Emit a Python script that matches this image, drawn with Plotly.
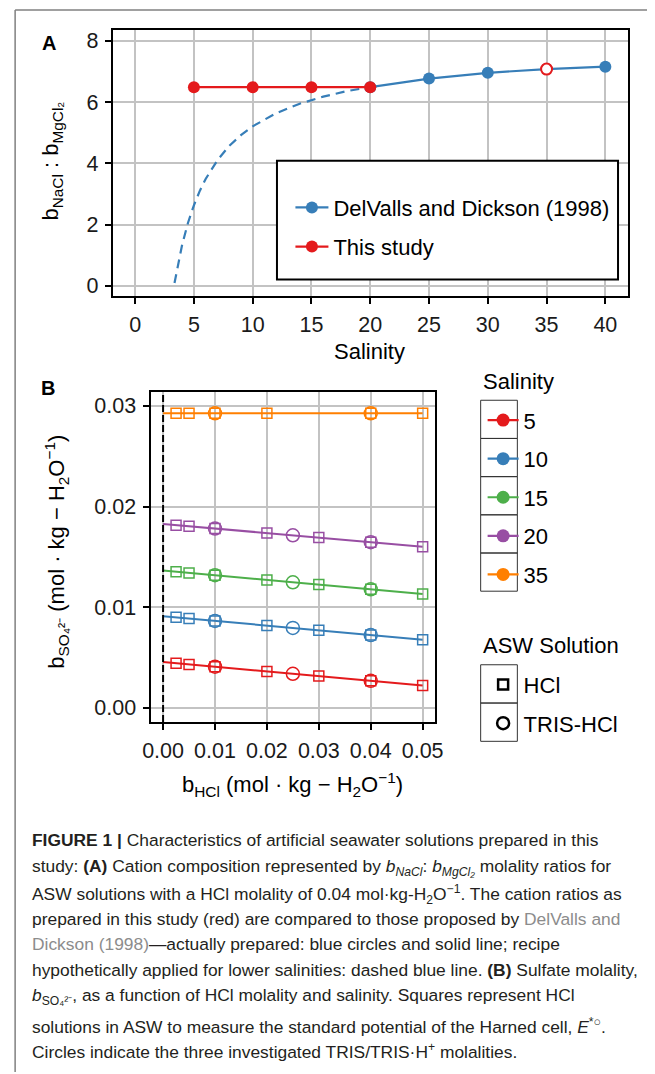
import plotly.graph_objects as go

W, H = 655, 1074


def px(x):
    return x / W


def py(y):
    return 1 - y / H


FONT = "Liberation Sans, Arial, Helvetica, sans-serif"
RED, BLUE, GREEN, PURPLE, ORANGE = "#E41A1C", "#377EB8", "#4DAF4A", "#984EA3", "#FF7F00"
GRID = "#C3C3C3"

# ---------------- Panel A data ----------------
salinity_ticks_a = [0, 5, 10, 15, 20, 25, 30, 35, 40]
ratio_ticks_a = [0, 2, 4, 6, 8]
salinity_study = [5, 10, 15, 20]
ratio_study = [6.49, 6.49, 6.49, 6.49]
salinity_study_35 = [35]
ratio_study_35 = [7.08]
salinity_dd = [20, 25, 30, 35, 40]
ratio_dd = [6.49, 6.77, 6.96, 7.08, 7.16]
salinity_hypo = [3.35, 3.6, 4.0, 4.5, 5.0, 5.5, 6.0, 7.0, 8.0, 9.0, 10.0, 12.0, 14.0, 16.0, 18.0, 20.0]
ratio_hypo = [0.09, 0.62, 1.34, 2.06, 2.63, 3.10, 3.49, 4.10, 4.57, 4.92, 5.21, 5.64, 5.95, 6.18, 6.36, 6.49]

# ---------------- Panel B data ----------------
hcl_ticks_b = [0.00, 0.01, 0.02, 0.03, 0.04, 0.05]
so4_ticks_b = [0.00, 0.01, 0.02, 0.03]
salinity_levels = ["5", "10", "15", "20", "35"]
salinity_colors = [RED, BLUE, GREEN, PURPLE, ORANGE]
hcl_line = [0.0, 0.05]
hcl_sq = [0.0025, 0.005, 0.01, 0.02, 0.03, 0.04, 0.05]
hcl_sq_35 = [0.0025, 0.005, 0.01, 0.02, 0.04, 0.05]
tris_hcl = [0.01, 0.025, 0.04]
tris_hcl_35 = [0.01, 0.04]

so4_line_5 = [0.00453, 0.00221]
so4_line_10 = [0.00910, 0.00675]
so4_line_15 = [0.01363, 0.01131]
so4_line_20 = [0.01826, 0.01601]
so4_line_35 = [0.02927, 0.02927]

so4_sq_5 = [0.00441, 0.00430, 0.00407, 0.00360, 0.00314, 0.00267, 0.00221]
so4_sq_10 = [0.00898, 0.00887, 0.00863, 0.00816, 0.00769, 0.00722, 0.00675]
so4_sq_15 = [0.01351, 0.01340, 0.01317, 0.01270, 0.01224, 0.01177, 0.01131]
so4_sq_20 = [0.01815, 0.01804, 0.01781, 0.01736, 0.01691, 0.01646, 0.01601]
so4_sq_35 = [0.02927, 0.02927, 0.02927, 0.02927, 0.02927, 0.02927]

so4_tris_5 = [0.00407, 0.00337, 0.00267]
so4_tris_10 = [0.00863, 0.00793, 0.00722]
so4_tris_15 = [0.01317, 0.01247, 0.01177]
so4_tris_20 = [0.01781, 0.01714, 0.01646]
so4_tris_35 = [0.02927, 0.02927]

asw_labels = ["HCl", "TRIS-HCl"]

fig = go.Figure()

# ---------------- Panel A traces ----------------
fig.add_trace(go.Scatter(x=salinity_hypo, y=ratio_hypo, mode="lines", xaxis="x", yaxis="y",
                         line=dict(color=BLUE, width=2.2, dash="9px,6px"), showlegend=False,
                         hoverinfo="skip"))
fig.add_trace(go.Scatter(x=salinity_dd, y=ratio_dd, mode="lines+markers", xaxis="x", yaxis="y",
                         name="DelValls and Dickson (1998)", legend="legend", legendgroup="dd",
                         line=dict(color=BLUE, width=2.2), marker=dict(color=BLUE, size=12)))
fig.add_trace(go.Scatter(x=salinity_study, y=ratio_study, mode="lines+markers", xaxis="x", yaxis="y",
                         name="This study", legend="legend", legendgroup="ts",
                         line=dict(color=RED, width=2.2), marker=dict(color=RED, size=12)))
fig.add_trace(go.Scatter(x=salinity_study_35, y=ratio_study_35, mode="markers", xaxis="x", yaxis="y",
                         showlegend=False,
                         marker=dict(color="white", size=11, line=dict(color=RED, width=2))))

# ---------------- Panel B traces ----------------
so4_lines = [so4_line_5, so4_line_10, so4_line_15, so4_line_20, so4_line_35]
hcl_sqs = [hcl_sq, hcl_sq, hcl_sq, hcl_sq, hcl_sq_35]
so4_sqs = [so4_sq_5, so4_sq_10, so4_sq_15, so4_sq_20, so4_sq_35]
tris_xs = [tris_hcl, tris_hcl, tris_hcl, tris_hcl, tris_hcl_35]
so4_tris = [so4_tris_5, so4_tris_10, so4_tris_15, so4_tris_20, so4_tris_35]

for lab, col, yl, xs, ys, xt, yt in zip(salinity_levels, salinity_colors, so4_lines, hcl_sqs, so4_sqs,
                                         tris_xs, so4_tris):
    fig.add_trace(go.Scatter(x=hcl_line, y=yl, mode="lines", xaxis="x2", yaxis="y2",
                             line=dict(color=col, width=2), showlegend=False))
    fig.add_trace(go.Scatter(x=xs, y=ys, mode="markers", xaxis="x2", yaxis="y2", showlegend=False,
                             marker=dict(symbol="square-open", size=10, color=col,
                                         line=dict(color=col, width=1.5))))
    fig.add_trace(go.Scatter(x=xt, y=yt, mode="markers", xaxis="x2", yaxis="y2", showlegend=False,
                             marker=dict(symbol="circle-open", size=13, color=col,
                                         line=dict(color=col, width=1.5))))

# legend-only entries (Salinity)
for lab, col in zip(salinity_levels, salinity_colors):
    fig.add_trace(go.Scatter(x=[None], y=[None], mode="lines+markers", xaxis="x2", yaxis="y2",
                             name=lab, legend="legend2", legendgroup="s" + lab,
                             line=dict(color=col, width=2.2), marker=dict(color=col, size=13)))
# legend-only entries (ASW solution)
for lab, sym, sz in zip(asw_labels, ["square-open", "circle-open"], [10, 12]):
    fig.add_trace(go.Scatter(x=[None], y=[None], mode="markers", xaxis="x2", yaxis="y2",
                             name=lab, legend="legend3", legendgroup="a" + lab,
                             marker=dict(symbol=sym, size=sz, color="black",
                                         line=dict(color="black", width=2.5))))

axis_common = dict(showgrid=True, gridcolor=GRID, gridwidth=2, zeroline=False,
                   showline=True, mirror=True, linecolor="black", linewidth=2.2,
                   ticks="outside", ticklen=6, tickwidth=1.5, tickcolor="black",
                   ticklabelstandoff=2,
                   tickfont=dict(family=FONT, size=21.5, color="#1a1a1a"))

LEG_FONT = dict(family=FONT, size=22, color="black")

fig.update_layout(
    width=W, height=H,
    margin=dict(l=0, r=0, t=0, b=0),
    paper_bgcolor="white", plot_bgcolor="white",
    font=dict(family=FONT, color="black"),
    xaxis=dict(domain=[px(107.4), px(635.8)], range=[-1.9, 41.95], anchor="y",
               tickvals=salinity_ticks_a, **axis_common),
    yaxis=dict(domain=[py(296.7), py(29.7)], range=[-0.34, 8.37], anchor="x",
               tickvals=ratio_ticks_a, **axis_common),
    xaxis2=dict(domain=[px(146.2), px(437.8)], range=[-0.0024, 0.0524], anchor="y2",
                tickvals=hcl_ticks_b, tickformat=".2f", **axis_common),
    yaxis2=dict(domain=[py(723.3), py(392.3)], range=[-0.00142, 0.03143], anchor="x2",
                tickvals=so4_ticks_b, tickformat=".2f", **axis_common),
    legend=dict(x=px(289.5), y=py(187), xanchor="left", yanchor="top", itemwidth=33,
                bgcolor="rgba(0,0,0,0)", borderwidth=0, tracegroupgap=7.5, font=LEG_FONT),
    legend2=dict(x=px(486.5), y=py(400), xanchor="left", yanchor="top", itemwidth=31,
                 bgcolor="rgba(0,0,0,0)", borderwidth=0, tracegroupgap=7.0, font=LEG_FONT),
    legend3=dict(x=px(486.5), y=py(665), xanchor="left", yanchor="top", itemwidth=31,
                 bgcolor="rgba(0,0,0,0)", borderwidth=0, tracegroupgap=7.0, font=LEG_FONT),
)

shapes = []
# page border (left and top)
shapes.append(dict(type="line", xref="paper", yref="paper", x0=px(7.3), x1=px(7.3), y0=0, y1=py(10),
                   line=dict(color="#808080", width=1.5)))
shapes.append(dict(type="line", xref="paper", yref="paper", x0=px(7.3), x1=1, y0=py(10), y1=py(10),
                   line=dict(color="#808080", width=1.5)))
# panel A legend box
shapes.append(dict(type="rect", xref="paper", yref="paper", x0=px(275.7), x1=px(625.3),
                   y0=py(280), y1=py(161), fillcolor="white", line=dict(color="black", width=2),
                   layer="above"))
# key boxes for salinity legend
top = 401.0
step = 38.26
for i in range(len(salinity_levels)):
    shapes.append(dict(type="rect", xref="paper", yref="paper", x0=px(484.5), x1=px(522.1),
                       y0=py(top + (i + 1) * step), y1=py(top + i * step),
                       line=dict(color="#333333", width=1), fillcolor="rgba(0,0,0,0)"))
top3 = 666.0
step3 = 38.35
for i in range(len(asw_labels)):
    shapes.append(dict(type="rect", xref="paper", yref="paper", x0=px(484.5), x1=px(522.1),
                       y0=py(top3 + (i + 1) * step3), y1=py(top3 + i * step3),
                       line=dict(color="#333333", width=1), fillcolor="rgba(0,0,0,0)"))
# vertical dashed line at b_HCl = 0
shapes.append(dict(type="line", xref="x2", yref="y2 domain", x0=0, x1=0, y0=0, y1=1,
                   line=dict(color="black", width=2, dash="7px,3px"), layer="above"))
fig.update_layout(shapes=shapes)

ann = []


def text(x, y, s, size=22, xanchor="center", angle=0, color="black"):
    ann.append(dict(x=px(x), y=py(y), xref="paper", yref="paper", text=s, showarrow=False,
                    xanchor=xanchor, yanchor="middle", textangle=angle,
                    font=dict(family=FONT, size=size, color=color)))


text(42, 43, "<b>A</b>", size=20)
text(41, 389, "<b>B</b>", size=20)
text(371, 352, "Salinity")
text(45, 161, "b<sub>NaCl</sub> : b<sub>MgCl₂</sub>", angle=-90)
text(50, 553, "b<sub>SO₄²⁻</sub> (mol · kg − H<sub>2</sub>O<sup>−1</sup>)", angle=-90)
text(291.5, 786, "b<sub>HCl</sub> (mol · kg − H<sub>2</sub>O<sup>−1</sup>)")
text(484.5, 382.7, "Salinity", xanchor="left")
text(484.5, 647, "ASW Solution", xanchor="left")

CAP = "#231f20"
LINK = "#8c8c8c"
caption = [
    (841.7, "<b>FIGURE 1 |</b> Characteristics of artificial seawater solutions prepared in this"),
    (869.0, "study: <b>(A)</b> Cation composition represented by <i>b<sub>NaCl</sub></i>: <i>b<sub>MgCl₂</sub></i> molality ratios for"),
    (896.0, "ASW solutions with a HCl molality of 0.04 mol·kg-H<sub>2</sub>O<sup>−1</sup>. The cation ratios as"),
    (920.7, "prepared in this study (red) are compared to those proposed by <span style='color:%s'>DelValls and</span>" % LINK),
    (945.7, "<span style='color:%s'>Dickson (1998)</span>—actually prepared: blue circles and solid line; recipe" % LINK),
    (971.7, "hypothetically applied for lower salinities: dashed blue line. <b>(B)</b> Sulfate molality,"),
    (998.5, "<i>b</i><sub>SO₄²⁻</sub>, as a function of HCl molality and salinity. Squares represent HCl"),
    (1028.3, "solutions in ASW to measure the standard potential of the Harned cell, <i>E</i><sup>*○</sup>."),
    (1053.3, "Circles indicate the three investigated TRIS/TRIS·H<sup>+</sup> molalities."),
]
for y, s in caption:
    text(23, y, s, size=17.4, xanchor="left", color=CAP)

fig.update_layout(annotations=ann)
fig.write_html("out.html", config={"displayModeBar": False},
               post_script="document.body.style.margin='0px';")
